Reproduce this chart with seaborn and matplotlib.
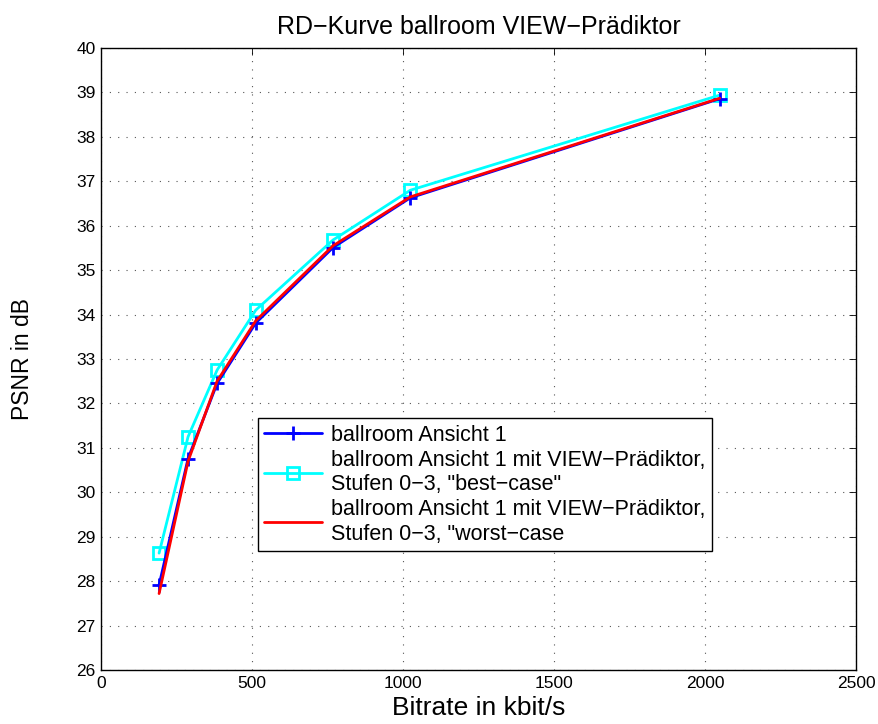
import matplotlib
matplotlib.use("Agg")
import matplotlib.pyplot as plt
import seaborn as sns
import pandas as pd

bitrate = [192, 288, 384, 512, 768, 1024, 2048]
psnr_ref = [27.91, 30.76, 32.45, 33.81, 35.51, 36.63, 38.86]
psnr_best = [28.63, 31.25, 32.75, 34.10, 35.68, 36.80, 38.94]
psnr_worst = [27.72, 30.70, 32.50, 33.86, 35.55, 36.65, 38.87]

labels = [
    "ballroom Ansicht 1",
    "ballroom Ansicht 1 mit VIEW\u2212Prädiktor,\nStufen 0\u22123, \"best\u2212case\"",
    "ballroom Ansicht 1 mit VIEW\u2212Prädiktor,\nStufen 0\u22123, \"worst\u2212case",
]
title = "RD\u2212Kurve ballroom VIEW\u2212Prädiktor"
xlabel = "Bitrate in kbit/s"
ylabel = "PSNR in dB"
xticks = [0, 500, 1000, 1500, 2000, 2500]
yticks = list(range(26, 41))

sns.set_style("white")
plt.rcParams['font.family'] = ['Liberation Sans', 'DejaVu Sans']
plt.rcParams['text.color'] = 'black'
plt.rcParams['axes.labelcolor'] = 'black'

fig = plt.figure(figsize=(8.79, 7.24), dpi=100)
ax = fig.add_axes([0.115, 0.0746, 0.859, 0.859])

df_ref = pd.DataFrame({"x": bitrate, "y": psnr_ref})
df_best = pd.DataFrame({"x": bitrate, "y": psnr_best})
df_worst = pd.DataFrame({"x": bitrate, "y": psnr_worst})

sns.lineplot(data=df_ref, x="x", y="y", ax=ax, color="#0000ff", lw=2,
             marker="+", markersize=10, markeredgewidth=2, markeredgecolor="#0000ff",
             label=labels[0], sort=False, zorder=3)
sns.lineplot(data=df_best, x="x", y="y", ax=ax, color="#00ffff", lw=2,
             marker="s", markersize=8.5, markeredgewidth=2, markerfacecolor="none",
             markeredgecolor="#00ffff", label=labels[1], sort=False, zorder=2)
sns.lineplot(data=df_worst, x="x", y="y", ax=ax, color="#ff0000", lw=2,
             label=labels[2], sort=False, zorder=4)

ax.set_xlim(0, 2500)
ax.set_ylim(26, 40)
ax.set_xticks(xticks)
ax.set_yticks(yticks)
ax.tick_params(direction="in", top=True, right=True, labelsize=12.5, length=5, width=0.6,
               colors="black", pad=4)
ax.grid(True, linestyle=(0, (1, 6.5)), color="#555555", linewidth=0.8)
for s in ax.spines.values():
    s.set_visible(True)
    s.set_color("black")
    s.set_linewidth(1.0)

ax.set_title(title, fontsize=18, pad=10, color="black")
ax.set_xlabel(xlabel, fontsize=19, labelpad=4, color="black")
ax.set_ylabel(ylabel, fontsize=16.5, labelpad=30, color="black")

leg = ax.legend(loc="upper left", bbox_to_anchor=(0.2073, 0.405), fontsize=15.5,
                frameon=True, fancybox=False, edgecolor="black", framealpha=1,
                borderpad=0.3, labelspacing=0.2, handlelength=2.7, handletextpad=0.4,
                borderaxespad=0)
leg.get_frame().set_linewidth(1.0)
for t in leg.get_texts():
    t.set_color("black")

fig.savefig("out.png", dpi=100)
